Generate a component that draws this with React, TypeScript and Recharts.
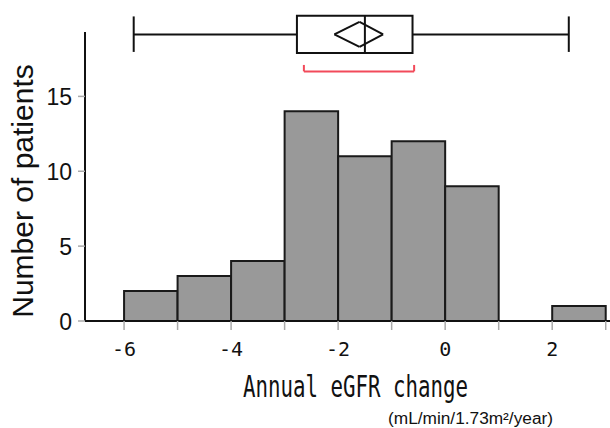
import React from 'react'
import { ComposedChart, XAxis, YAxis, ReferenceArea, ReferenceLine } from 'recharts'

// histogram bins (annual eGFR change)
const binStarts = [-6, -5, -4, -3, -2, -1, 0, 1, 2]
const binEnds = [-5, -4, -3, -2, -1, 0, 1, 2, 3]
const patientCounts = [2, 3, 4, 14, 11, 12, 9, 0, 1]

// box plot summary
const whiskers = [-5.82, 2.31]
const quartiles = [-2.77, -1.5, -0.61] // q1, median, q3
const meanDiamond = [-2.07, -1.6, -1.16] // lower ci, mean, upper ci
const shortestHalf = [-2.64, -0.58]

const xTicks = [-6, -5, -4, -3, -2, -1, 0, 1, 2, 3]
const xTickLabels = ['-6', '', '-4', '', '-2', '', '0', '', '2', '']
const yTicks = [0, 5, 10, 15]

const bins = binStarts.map((s, i) => ({ start: s, end: binEnds[i], count: patientCounts[i] }))

// vertical placement of the box plot (in y-axis units, above the plot)
const BOX_MID = 19.14
const BOX_HALF = 1.24
const DIA_HALF = 0.83
const BRACKET_Y = 16.67
const BRACKET_TOP = 17.1

const mono = '"DejaVu Sans Mono", monospace'
const sans = '"Liberation Sans", Arial, sans-serif'

function XTick(props: any) {
  const { x, y, payload } = props
  const label = xTickLabels[xTicks.indexOf(payload.value)]
  if (!label) return null
  return (
    <text x={x} y={y + 26} textAnchor="middle" fontFamily={mono} fontSize={20} fill="#111">
      {label}
    </text>
  )
}

function YTick(props: any) {
  const { x, y, payload } = props
  return (
    <text x={x} y={y + 9} textAnchor="end" fontFamily={sans} fontSize={23} fill="#111">
      {payload.value}
    </text>
  )
}

const line = { stroke: '#111', strokeWidth: 2, ifOverflow: 'visible' as const }

export default function App(): React.ReactElement {
  const [wLo, wHi] = whiskers
  const [q1, med, q3] = quartiles
  const [dLo, dMid, dHi] = meanDiamond
  const [hLo, hHi] = shortestHalf
  return (
    <div style={{ position: 'absolute', left: 0, top: 0, width: 610, height: 428, background: '#fff' }}>
      <ComposedChart
        width={610}
        height={428}
        data={bins}
        margin={{ top: 32, right: 0, left: 0, bottom: 77 }}
      >
        <XAxis
          type="number"
          dataKey="start"
          domain={[-6.73, 3.08]}
          ticks={xTicks}
          interval={0}
          height={30}
          tick={<XTick />}
          tickSize={9}
          tickMargin={0}
          axisLine={{ stroke: '#111', strokeWidth: 2 }}
          tickLine={{ stroke: '#aaa', strokeWidth: 1.5 }}
          allowDataOverflow
        />
        <YAxis
          type="number"
          domain={[0, 19.3]}
          ticks={yTicks}
          interval={0}
          width={85}
          tick={<YTick />}
          tickSize={7}
          tickMargin={6}
          axisLine={{ stroke: '#111', strokeWidth: 2 }}
          tickLine={{ stroke: '#aaa', strokeWidth: 1.5 }}
          allowDataOverflow
        />
        {bins
          .filter((b) => b.count > 0)
          .map((b) => (
            <ReferenceArea
              key={b.start}
              x1={b.start}
              x2={b.end}
              y1={0}
              y2={b.count}
              fill="#999999"
              fillOpacity={1}
              stroke="#1a1a1a"
              strokeWidth={2}
              strokeOpacity={1}
            />
          ))}

        {/* box plot */}
        <ReferenceLine segment={[{ x: wLo, y: BOX_MID }, { x: q1, y: BOX_MID }]} {...line} />
        <ReferenceLine segment={[{ x: q3, y: BOX_MID }, { x: wHi, y: BOX_MID }]} {...line} />
        <ReferenceLine segment={[{ x: wLo, y: BOX_MID - 1.17 }, { x: wLo, y: BOX_MID + 1.2 }]} {...line} />
        <ReferenceLine segment={[{ x: wHi, y: BOX_MID - 1.17 }, { x: wHi, y: BOX_MID + 1.2 }]} {...line} />
        <ReferenceArea
          x1={q1}
          x2={q3}
          y1={BOX_MID - BOX_HALF}
          y2={BOX_MID + BOX_HALF}
          fill="#fff"
          fillOpacity={1}
          stroke="#111"
          strokeWidth={2}
          strokeOpacity={1}
          ifOverflow="visible"
        />
        <ReferenceLine segment={[{ x: med, y: BOX_MID - BOX_HALF }, { x: med, y: BOX_MID + BOX_HALF }]} {...line} />
        <ReferenceLine segment={[{ x: dLo, y: BOX_MID }, { x: dMid, y: BOX_MID + DIA_HALF }]} {...line} />
        <ReferenceLine segment={[{ x: dMid, y: BOX_MID + DIA_HALF }, { x: dHi, y: BOX_MID }]} {...line} />
        <ReferenceLine segment={[{ x: dHi, y: BOX_MID }, { x: dMid, y: BOX_MID - DIA_HALF }]} {...line} />
        <ReferenceLine segment={[{ x: dMid, y: BOX_MID - DIA_HALF }, { x: dLo, y: BOX_MID }]} {...line} />

        {/* shortest half bracket */}
        <ReferenceLine segment={[{ x: hLo, y: BRACKET_Y }, { x: hHi, y: BRACKET_Y }]} {...line} stroke="#f24a5a" />
        <ReferenceLine segment={[{ x: hLo, y: BRACKET_Y }, { x: hLo, y: BRACKET_TOP }]} {...line} stroke="#f24a5a" />
        <ReferenceLine segment={[{ x: hHi, y: BRACKET_Y }, { x: hHi, y: BRACKET_TOP }]} {...line} stroke="#f24a5a" />
      </ComposedChart>
      <svg width={610} height={428} style={{ position: 'absolute', left: 0, top: 0, pointerEvents: 'none' }}>
        <text
          x={33}
          y={191}
          transform="rotate(-90, 33, 191)"
          textAnchor="middle"
          fontFamily={sans}
          fontSize={30}
          fill="#111"
        >
          Number of patients
        </text>
        <text
          x={355.5}
          y={397}
          textAnchor="middle"
          fontFamily={mono}
          fontSize={30}
          textLength={225}
          lengthAdjust="spacingAndGlyphs"
          fill="#111"
        >
          Annual eGFR change
        </text>
        <text
          x={470.5}
          y={424}
          textAnchor="middle"
          fontFamily={sans}
          fontSize={16}
          textLength={165}
          lengthAdjust="spacingAndGlyphs"
          fill="#111"
        >
          (mL/min/1.73m²/year)
        </text>
      </svg>
    </div>
  )
}
